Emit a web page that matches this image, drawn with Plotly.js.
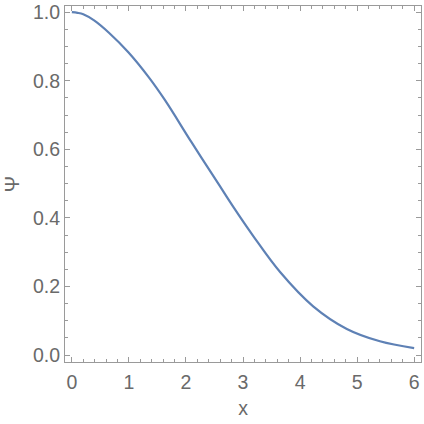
<!DOCTYPE html>
<html>
<head>
<meta charset="utf-8">
<script src="https://cdn.plot.ly/plotly-3.0.1.min.js"></script>
<style>html,body{margin:0;padding:0;background:#fff;}#plot{width:424px;height:424px;}</style>
</head>
<body>
<div id="plot"></div>
<script>
const xValues = [0, 0.1, 0.2, 0.39, 0.65, 0.99, 1.34, 1.63, 2.1, 2.57, 2.83, 3.18, 3.65, 4.23, 4.82, 5.4, 6.0];
const psiValues = [1.0, 0.998, 0.994, 0.976, 0.940, 0.883, 0.812, 0.744, 0.620, 0.499, 0.432, 0.347, 0.242, 0.142, 0.076, 0.040, 0.020];
const xTickVals = [0, 1, 2, 3, 4, 5, 6];
const yTickVals = [0, 0.2, 0.4, 0.6, 0.8, 1.0];
const yTickText = ["0.0", "0.2", "0.4", "0.6", "0.8", "1.0"];

const axisColor = "#9a9a9a";
const tickFont = {family: "Liberation Sans, Arial, sans-serif", size: 19.5, color: "#6a6a6a"};

const trace = {
  x: xValues, y: psiValues, type: "scatter", mode: "lines",
  line: {color: "#5e81b5", width: 2.2, shape: "spline", smoothing: 1},
  hoverinfo: "none"
};

const layout = {
  width: 424, height: 424,
  margin: {l: 65, r: 3, t: 6, b: 62},
  paper_bgcolor: "#ffffff", plot_bgcolor: "#ffffff",
  showlegend: false,
  xaxis: {
    range: [-0.12, 6.12], tickvals: xTickVals, ticktext: xTickVals.map(String),
    ticks: "inside", ticklen: 5, tickwidth: 1, tickcolor: axisColor,
    minor: {dtick: 0.2, ticks: "inside", ticklen: 3, tickcolor: axisColor, showgrid: false},
    showline: true, linecolor: axisColor, linewidth: 1, mirror: "allticks",
    showgrid: false, zeroline: false,
    tickfont: tickFont, ticklabelstandoff: 3,
    title: {text: "x", font: tickFont, standoff: 8}
  },
  yaxis: {
    range: [-0.0204, 1.018], tickvals: yTickVals, ticktext: yTickText,
    ticks: "inside", ticklen: 5, tickwidth: 1, tickcolor: axisColor,
    minor: {dtick: 0.05, ticks: "inside", ticklen: 3, tickcolor: axisColor, showgrid: false},
    showline: true, linecolor: axisColor, linewidth: 1, mirror: "allticks",
    showgrid: false, zeroline: false,
    tickfont: tickFont,
    title: {text: "Ψ", font: tickFont, standoff: 8}
  }
};

Plotly.newPlot("plot", [trace], layout, {staticPlot: true, displayModeBar: false});
</script>
</body>
</html>
